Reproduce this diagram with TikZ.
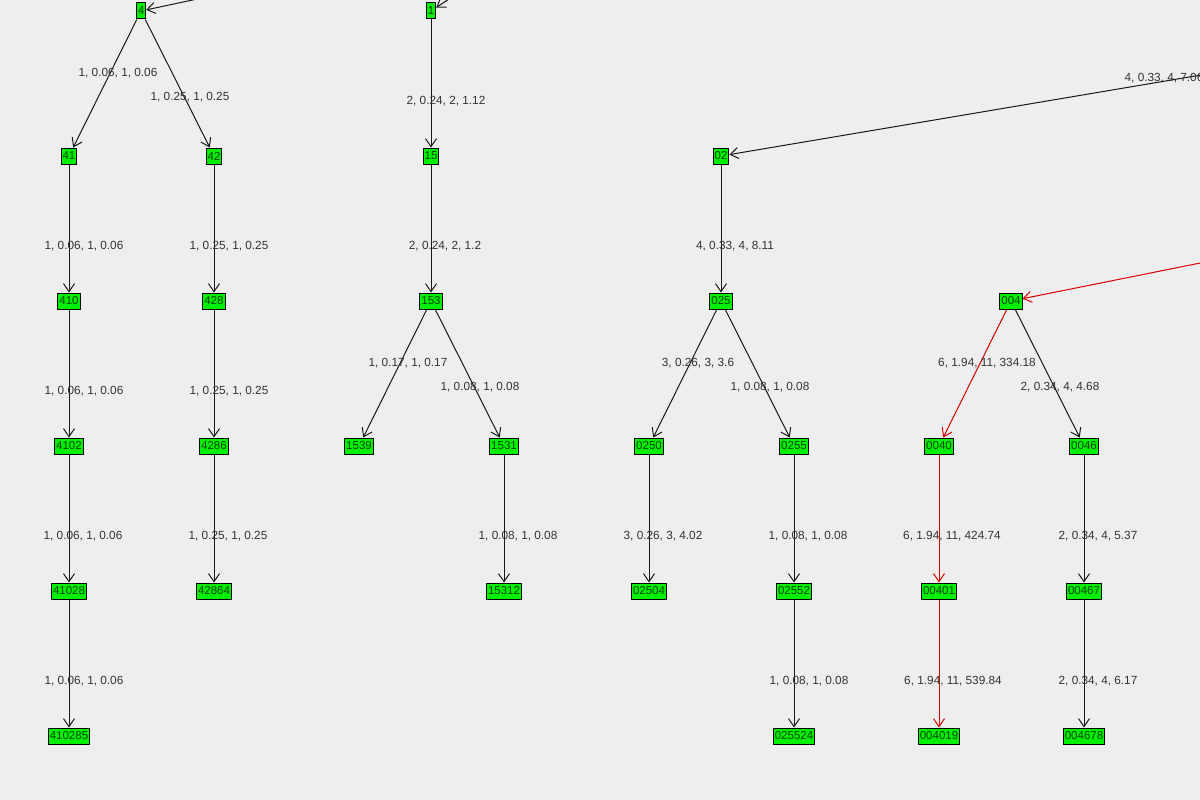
\documentclass[tikz,border=0pt]{standalone}
\usepackage{fontspec}
\setmainfont{Liberation Sans}
\usetikzlibrary{arrows.meta}
\definecolor{bg}{HTML}{EEEEEE}
\definecolor{ng}{HTML}{00F000}
\definecolor{lt}{HTML}{333333}
\begin{document}
\begin{tikzpicture}[x=1pt,y=-1pt,line width=1pt,
  nd/.style={draw=black,fill=ng,inner sep=1.5pt,minimum height=16pt,minimum width=9pt,font=\fontsize{11.5}{12}\selectfont,text=black!75!green},
  ed/.style={draw=black!90,-{Straight Barb[length=8pt,width=11pt]}},
  red/.style={draw=red!85!black},
  lb/.style={font=\fontsize{11.8}{12}\selectfont,text=lt,inner sep=0pt}]
\useasboundingbox (0,0) rectangle (1200,800);
\fill[bg] (0,0) rectangle (1200,800);
\clip (0,0) rectangle (1200,800);
\foreach \n/\x/\y in {4/141/11,1/431/11,41/69/156,42/214/156,410/69/301,428/214/301,4102/69/446,4286/214/446,41028/69/591,42864/214/591,410285/69/736,15/431/156,153/431/301,1539/359/446,1531/504/446,15312/504/591,02/721/156,025/721/301,0250/649/446,0255/794/446,02504/649/591,02552/794/591,025524/794/736,004/1011/301,0040/939/446,0046/1084/446,00401/939/591,00467/1084/591,004019/939/736,004678/1084/736}
  \node[nd] (n\n) at (\x,\y) {\n};
\coordinate (i4) at (230,-8);
\coordinate (i1) at (470,-15);
\coordinate (i02) at (1290,60);
\coordinate (i004) at (1290,245);
\draw[ed] (i4) -- (n4);
\draw[ed] (i1) -- (n1);
\draw[ed] (i02) -- (n02);
\draw[ed,red] (i004) -- (n004);
\foreach \a/\b in {4/41,4/42,41/410,42/428,410/4102,428/4286,4102/41028,4286/42864,41028/410285,1/15,15/153,153/1539,153/1531,1531/15312,02/025,025/0250,025/0255,0250/02504,0255/02552,02552/025524,004/0046,0046/00467,00467/004678}
  \draw[ed] (n\a) -- (n\b);
\foreach \a/\b in {004/0040,0040/00401,00401/004019}
  \draw[ed,red] (n\a) -- (n\b);
\foreach \t/\x/\y in {{1, 0.06, 1, 0.06}/118/73,{1, 0.25, 1, 0.25}/190/97,{1, 0.06, 1, 0.06}/84/246,{1, 0.25, 1, 0.25}/229/246,{1, 0.06, 1, 0.06}/84/391,{1, 0.25, 1, 0.25}/229/391,{1, 0.06, 1, 0.06}/83/536,{1, 0.25, 1, 0.25}/228/536,{1, 0.06, 1, 0.06}/84/681,{2, 0.24, 2, 1.12}/446/101,{2, 0.24, 2, 1.2}/445/246,{1, 0.17, 1, 0.17}/408/363,{1, 0.08, 1, 0.08}/480/387,{1, 0.08, 1, 0.08}/518/536,{4, 0.33, 4, 7.06}/1164/78,{4, 0.33, 4, 8.11}/735/246,{3, 0.26, 3, 3.6}/698/363,{1, 0.08, 1, 0.08}/770/387,{3, 0.26, 3, 4.02}/663/536,{1, 0.08, 1, 0.08}/808/536,{1, 0.08, 1, 0.08}/809/681,{6, 1.94, 11, 334.18}/987/363,{2, 0.34, 4, 4.68}/1060/387,{6, 1.94, 11, 424.74}/952/536,{2, 0.34, 4, 5.37}/1098/536,{6, 1.94, 11, 539.84}/953/681,{2, 0.34, 4, 6.17}/1098/681}
  \node[lb] at (\x,\y) {\t};
\end{tikzpicture}
\end{document}
